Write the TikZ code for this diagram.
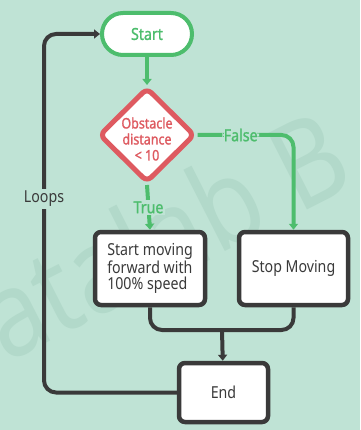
\documentclass[tikz,border=0pt]{standalone}
\usepackage{fontspec}
\setmainfont{Noto Sans}[FakeStretch=0.86]
\newfontfamily\semib{Noto Sans}[FakeStretch=0.86, FakeBold=1.3]
\usetikzlibrary{shapes.geometric,arrows.meta}
\definecolor{bg}{HTML}{BFE3D5}
\definecolor{fgreen}{HTML}{4DBD6D}
\definecolor{fred}{HTML}{DE5A60}
\definecolor{fdark}{HTML}{3A3A3A}
\definecolor{wm}{HTML}{B2D9CA}
\tikzset{
  startbox/.style={draw=fgreen, line width=4pt, fill=white, rounded corners=21pt,
    minimum width=90pt, minimum height=42pt, text=fgreen, font=\fontsize{16.5}{18}\semib},
  diam/.style={diamond, draw=fred, line width=5pt, fill=white, minimum width=96pt,
    minimum height=95pt, inner sep=0pt, rounded corners=6pt},
  dtxt/.style={text=fred, align=center, font=\fontsize{14.5}{16}\semib},
  pbox/.style={draw=fdark, line width=4.5pt, fill=white, rounded corners=6pt,
    text=fdark, font=\fontsize{16.5}{16.5}\selectfont, inner sep=0pt},
  gline/.style={draw=fgreen, line width=4pt, -{Triangle[length=6pt,width=9pt]}},
  dline/.style={draw=fdark, line width=4pt},
  darrow/.style={draw=fdark, line width=4pt, -{Triangle[length=6pt,width=9pt]}},
  glabel/.style={fill=bg, text=fgreen, inner sep=1.5pt, font=\fontsize{16.5}{18}\semib},
  dlabel/.style={fill=bg, text=fdark, inner sep=2pt, font=\fontsize{16.5}{18}\selectfont},
}
\begin{document}
\begin{tikzpicture}[x=1pt,y=-1pt]
\fill[bg] (0,0) rectangle (360,430);
\useasboundingbox (0,0) rectangle (360,430);
\begin{scope}
\clip (0,0) rectangle (360,430);
\node[rotate=27, text=wm, font=\fontsize{120}{120}\selectfont, anchor=base west, inner sep=0pt] (wmark) at (-61,398) {Datalab B};
\end{scope}

\node[startbox] (start) at (147,34) {Start};
\node[diam] (dec) at (147,135) {};
\node[dtxt] (dtext) at (147,139) {Obstacle\\distance\\< 10};
\node[pbox, minimum width=110pt, minimum height=73pt, align=left] (move) at (150,268.5) {Start moving\\forward with\\100\% speed};
\node[pbox, minimum width=109pt, minimum height=73pt] (stop) at (293.5,268.5) {Stop Moving};
\node[pbox, minimum width=89pt, minimum height=59pt] (end) at (223.5,392.5) {End};

\coordinate (mj) at (222,330);
\coordinate (lx) at (44,0);

\draw[gline] (start) -- (dec);
\draw[gline] (dec.south) -- node[glabel] {True} (move.north);
\draw[gline, rounded corners=12pt] (dec.east) -- node[glabel, pos=0.45] {False} (stop.north |- dec.east) -- (stop.north);
\draw[dline, rounded corners=12pt] (move.south) |- (mj) -| (stop.south);
\draw[darrow] (mj) -- (end);
\draw[darrow, rounded corners=12pt] (end.west) -| node[dlabel, pos=0.77] {Loops} (start.west -| lx) -- (start.west);
\end{tikzpicture}
\end{document}
